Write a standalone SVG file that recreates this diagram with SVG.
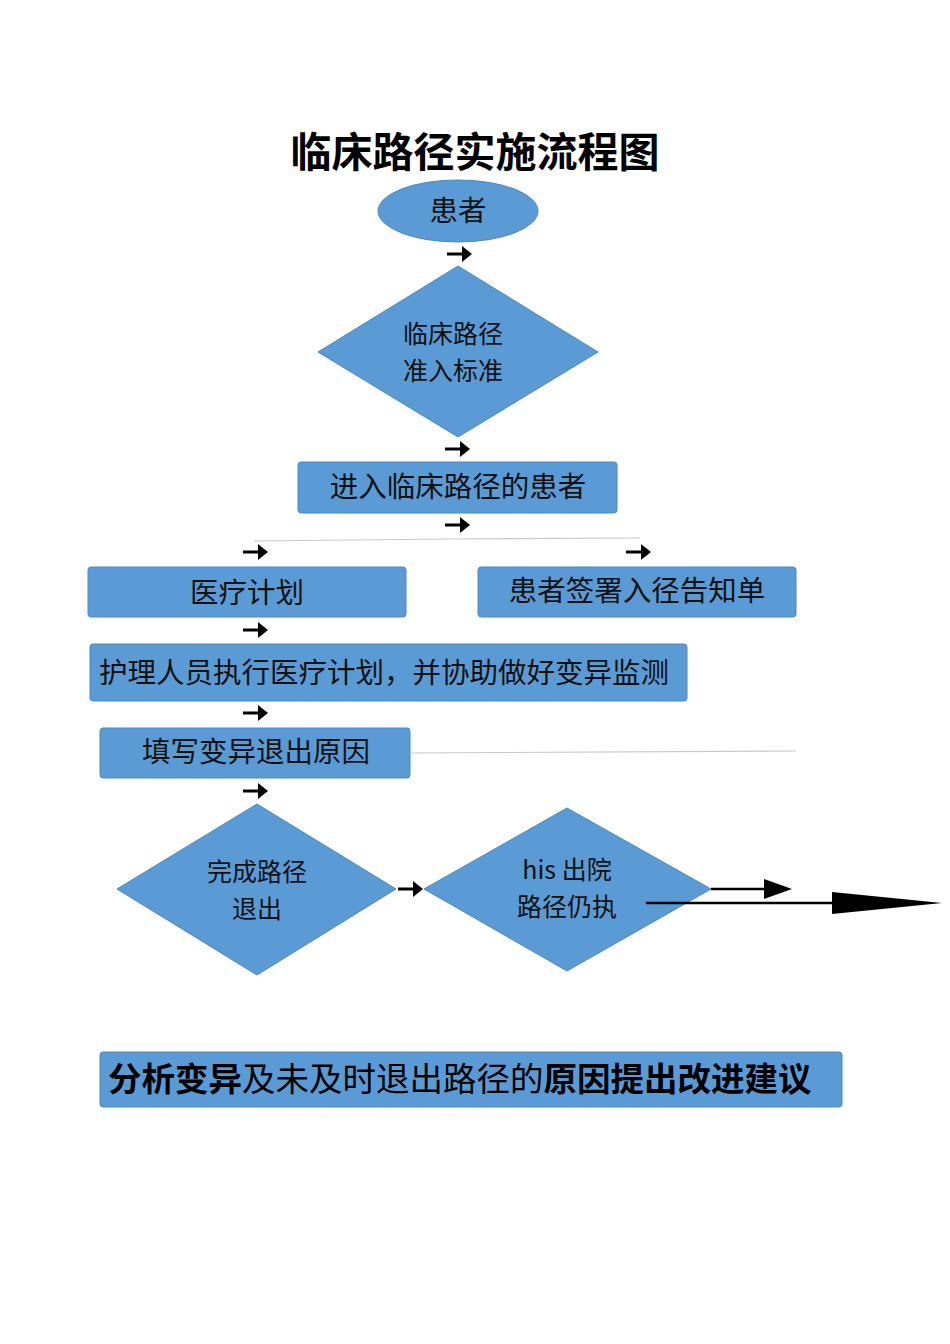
<svg xmlns="http://www.w3.org/2000/svg" xmlns:xlink="http://www.w3.org/1999/xlink" width="950" height="1344" viewBox="0 0 950 1344">
<style>
.shape{fill:#5b9bd5;stroke:#4f88bd;stroke-width:1}
.t{font-family:"Noto Sans CJK SC","Liberation Sans",sans-serif;font-size:28.5px;fill:#111;text-anchor:middle}
.t2{font-family:"Noto Sans CJK SC","Liberation Sans",sans-serif;font-size:25px;fill:#111;text-anchor:middle}
.title{font-family:"Noto Sans CJK SC","Liberation Sans",sans-serif;font-size:41px;font-weight:bold;fill:#000;text-anchor:middle}
.gl{stroke:#c8c8c8;stroke-width:1.2;fill:none}
.ln{stroke:#000;stroke-width:2.5;fill:none}
</style>
<defs>
<g id="sa">
<path d="M0 0 H17" stroke="#000" stroke-width="3"/>
<polygon points="15,-8 25,0 15,8" fill="#000"/>
</g>
</defs>
<rect width="950" height="1344" fill="#fff"/>
<text class="title" x="475" y="167">临床路径实施流程图</text>

<g id="n-patient">
<ellipse class="shape" cx="458" cy="211" rx="80" ry="31"/>
<text class="t" x="458" y="221">患者</text>
</g>
<g id="n-criteria">
<polygon class="shape" points="458,266 598,352 458,437 318,352"/>
<text class="t2" x="453" y="343">临床路径</text>
<text class="t2" x="453" y="380">准入标准</text>
</g>
<g id="n-enter">
<rect class="shape" x="298" y="462" width="319" height="51" rx="3"/>
<text class="t" x="458" y="497">进入临床路径的患者</text>
</g>
<g id="n-plan">
<rect class="shape" x="88" y="567" width="318" height="50" rx="3"/>
<text class="t" x="247" y="603">医疗计划</text>
</g>
<g id="n-consent">
<rect class="shape" x="478" y="567" width="318" height="50" rx="3"/>
<text class="t" x="637" y="601">患者签署入径告知单</text>
</g>
<g id="n-nursing">
<rect class="shape" x="90" y="644" width="597" height="57" rx="3"/>
<text class="t" x="384" y="683">护理人员执行医疗计划，并协助做好变异监测</text>
</g>
<g id="n-reason">
<rect class="shape" x="100" y="728" width="310" height="50" rx="3"/>
<text class="t" x="256" y="762">填写变异退出原因</text>
</g>
<g id="n-complete">
<polygon class="shape" points="257,804 396,889 257,975 117,889"/>
<text class="t2" x="257" y="881">完成路径</text>
<text class="t2" x="257" y="918">退出</text>
</g>
<g id="n-his">
<polygon class="shape" points="567,808 711,889 567,971 424,889"/>
<text class="t2" x="567" y="879">his 出院</text>
<text class="t2" x="567" y="916">路径仍执</text>
</g>
<g id="n-analysis">
<rect class="shape" x="100" y="1052" width="742" height="55" rx="3"/>
<text x="108" y="1091" style="font-family:'Noto Sans CJK SC','Liberation Sans',sans-serif;font-size:33.5px;fill:#000"><tspan font-weight="bold">分析变异</tspan><tspan font-weight="normal">及未及时退出路径的</tspan><tspan font-weight="bold">原因提出改进建议</tspan></text>
</g>

<g id="connectors">
<use xlink:href="#sa" href="#sa" x="447" y="254"/>
<use xlink:href="#sa" href="#sa" x="445" y="449"/>
<use xlink:href="#sa" href="#sa" x="445" y="525"/>
<path class="gl" d="M254 541 L450 539 L640 538"/>
<use xlink:href="#sa" href="#sa" x="243" y="552"/>
<use xlink:href="#sa" href="#sa" x="626" y="552"/>
<use xlink:href="#sa" href="#sa" x="243" y="630"/>
<use xlink:href="#sa" href="#sa" x="243" y="713"/>
<path class="gl" d="M410 753 L796 751"/>
<use xlink:href="#sa" href="#sa" x="243" y="791"/>
<use xlink:href="#sa" href="#sa" x="398" y="889"/>
<path class="ln" d="M711 889 H768"/>
<polygon points="764,879 792,889 764,899" fill="#000"/>
<path class="ln" d="M646 903 H836"/>
<polygon points="832,892 942,903 832,914" fill="#000"/>
</g>
</svg>
